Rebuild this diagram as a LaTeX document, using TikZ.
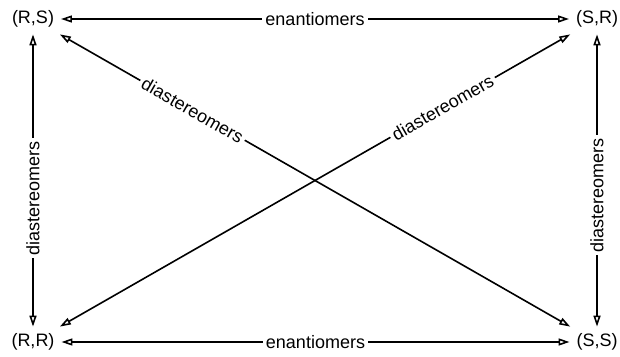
\documentclass[tikz,border=0pt]{standalone}
\usepackage{fontspec}
\setmainfont{Liberation Sans}
\usetikzlibrary{arrows.meta}
\newcommand{\isomernode}[3]{
  \node[inner sep=1pt,outer sep=2.5pt] (#1) at #2 {#3};
}

\begin{document}
\begin{tikzpicture}[x=0.5pt,y=-0.5pt,font=\fontsize{9}{11}\selectfont,
  >={Triangle[open,length=5.5pt,width=3.5pt]},
  rel/.style={<->,line width=0.8pt},
  relname/.style={fill=white,inner sep=1.5pt,sloped}]
  \useasboundingbox (0,0) rectangle (620,357);
  \isomernode{rs}{(33,19)}{(R,S)}
  \isomernode{sr}{(597,19)}{(S,R)}
  \isomernode{rr}{(33,342)}{(R,R)}
  \isomernode{ss}{(597,342)}{(S,S)}
  % enantiomer pairs
  \draw[rel] (rs) -- node[relname] {enantiomers} (sr);
  \draw[rel] (rr) -- node[relname] {enantiomers} (ss);
  % diastereomer pairs
  \draw[rel] (rr) -- node[relname,pos=0.44] {diastereomers} (rs);
  \draw[rel] (ss) -- node[relname,pos=0.45] {diastereomers} (sr);
  \draw[rel] (rs) -- node[relname,pos=0.26] {diastereomers} (ss);
  \draw[rel] (rr) -- node[relname,pos=0.75] {diastereomers} (sr);
\end{tikzpicture}
\end{document}
